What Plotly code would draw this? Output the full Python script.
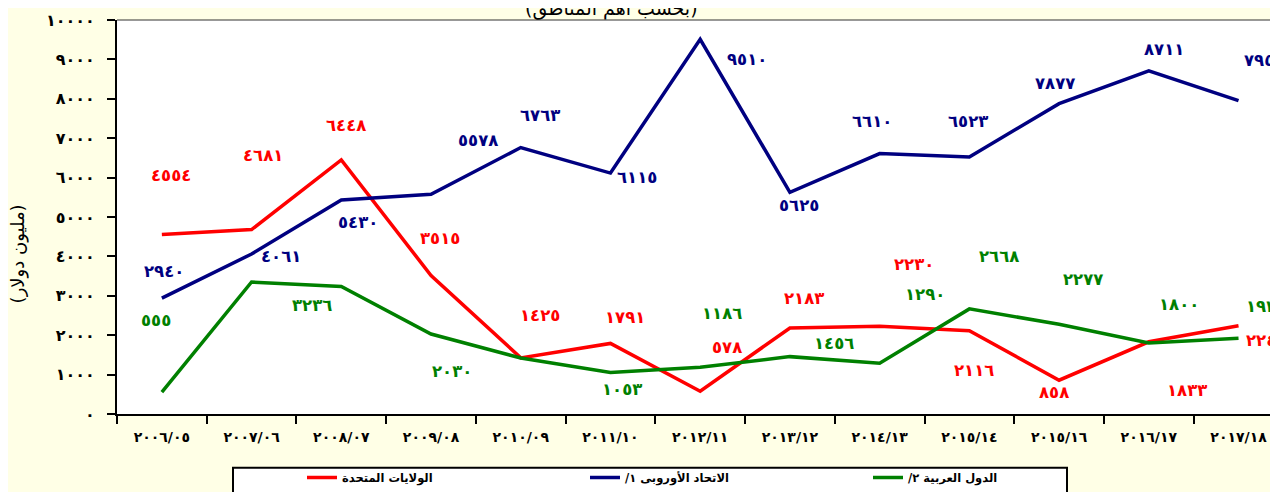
import plotly.graph_objects as go

# ---------------- data ----------------
categories = ["٢٠٠٦/٠٥", "٢٠٠٧/٠٦", "٢٠٠٨/٠٧", "٢٠٠٩/٠٨", "٢٠١٠/٠٩", "٢٠١١/١٠",
              "٢٠١٢/١١", "٢٠١٣/١٢", "٢٠١٤/١٣", "٢٠١٥/١٤", "٢٠١٥/١٦", "٢٠١٦/١٧", "٢٠١٧/١٨"]
us_values = [4554, 4681, 6448, 3515, 1425, 1791, 578, 2183, 2230, 2116, 858, 1833, 2240]
eu_values = [2940, 4061, 5430, 5578, 6763, 6115, 9510, 5625, 6610, 6523, 7877, 8711, 7952]
arab_values = [555, 3350, 3236, 2030, 1420, 1053, 1186, 1456, 1290, 2668, 2277, 1800, 1922]
series_names = ["الولايات المتحدة", "الاتحاد الأوروبى ١/\u200f", "الدول العربية ٢/\u200f"]
y_tick_values = [0, 1000, 2000, 3000, 4000, 5000, 6000, 7000, 8000, 9000, 10000]
y_title = "(مليون دولار)"
subtitle = "(بحسب أهم المناطق)"

# ---------------- styles ----------------
colors = ["#FF0000", "#000080", "#008000"]
# label offsets (dx, dy in px, screen-down positive); None = no label
us_offsets = [(9, -59), (11, -74), (5, -34), (9, -37), (19, -42), (15, -26), (27, -44),
              (14, -29), (34, -62), (5, 40), (-5, 12), (38, 49), (27, 15)]
eu_offsets = [(2, -27), (29, 2), (17, 22), (47, -54), (19, -32), (27, 4), (47, 20),
              (9, 13), (-8, -32), (-1, -35), (-4, -20), (15, -21), (25, -40)]
arab_offsets = [(-6, -72), None, (-29, 19), (21, 37), None, (12, 17), (22, -54),
                (44, -13), (45, -69), (30, -52), (24, -45), (30, -39), (27, -32)]

to_ar = str.maketrans("0123456789", "٠١٢٣٤٥٦٧٨٩")
FONT = "DejaVu Sans"

# The page body has an 8px margin; the figure is sized so that it ends at the window edge.
W, H = 1270, 484
L, T, B = 109, 12, 77          # plot area: screen x 117..1278, y 20..415


def px_x(sx):                 # screen x -> paper x
    return (sx - 117) / 1161


def px_y(sy):                 # screen y -> paper y
    return (415 - sy) / 395


fig = go.Figure()
annotations = []
for name, vals, offs, col in zip(series_names, [us_values, eu_values, arab_values],
                                 [us_offsets, eu_offsets, arab_offsets], colors):
    fig.add_trace(go.Scatter(x=categories, y=vals, mode="lines", name=name,
                             line=dict(color=col, width=3.5)))
    for c, v, o in zip(categories, vals, offs):
        if o is None:
            continue
        annotations.append(dict(x=c, y=v, xref="x", yref="y", text=str(v).translate(to_ar),
                                showarrow=False, xshift=o[0], yshift=-o[1],
                                font=dict(family=FONT, size=16.5, color=col, weight="bold")))

# axis title and subtitle
annotations.append(dict(x=px_x(18), y=px_y(255), xref="paper", yref="paper", text=y_title,
                        textangle=-90, showarrow=False, xanchor="center", yanchor="middle",
                        font=dict(family=FONT, size=18, color="black")))
annotations.append(dict(x=px_x(611), y=px_y(8), xref="paper", yref="paper", text=subtitle,
                        xanchor="center", yanchor="middle", showarrow=False,
                        font=dict(family=FONT, size=19, color="black")))

shapes = [
    dict(type="line", xref="paper", yref="paper", x0=0, x1=1, y0=1, y1=1,
         line=dict(color="#333333", width=1)),
    dict(type="rect", xref="paper", yref="paper", x0=px_x(233), x1=px_x(1067),
         y0=px_y(469), y1=px_y(505),
         line=dict(color="black", width=2), fillcolor="white", layer="below"),
]

fig.update_layout(
    width=W, height=H,
    margin=dict(l=L, r=0, t=T, b=B),
    paper_bgcolor="#FFFFE6", plot_bgcolor="white",
    showlegend=True,
    legend=dict(orientation="h", x=px_x(302), y=px_y(464),
                xanchor="left", yanchor="top", bgcolor="rgba(0,0,0,0)", borderwidth=0,
                entrywidth=238, font=dict(family=FONT, size=11.5, color="black", weight="bold")),
    annotations=annotations, shapes=shapes,
    xaxis=dict(type="category", range=[-0.5, 12.44], showline=True, linecolor="black",
               linewidth=2, ticks="outside", tickson="boundaries", ticklen=8, tickwidth=2,
               tickcolor="black", showgrid=False, ticklabelstandoff=9,
               tickfont=dict(family=FONT, size=14, color="black", weight="bold")),
    yaxis=dict(range=[0, 10000], tickvals=y_tick_values,
               ticktext=[str(v).translate(to_ar) for v in y_tick_values],
               showline=True, linecolor="black", linewidth=2, ticks="outside", ticklen=8,
               tickwidth=2, tickcolor="black", showgrid=False, zeroline=False,
               ticklabelstandoff=9,
               tickfont=dict(family=FONT, size=16, color="black", weight="bold")),
)

fig.write_html("out.html")
